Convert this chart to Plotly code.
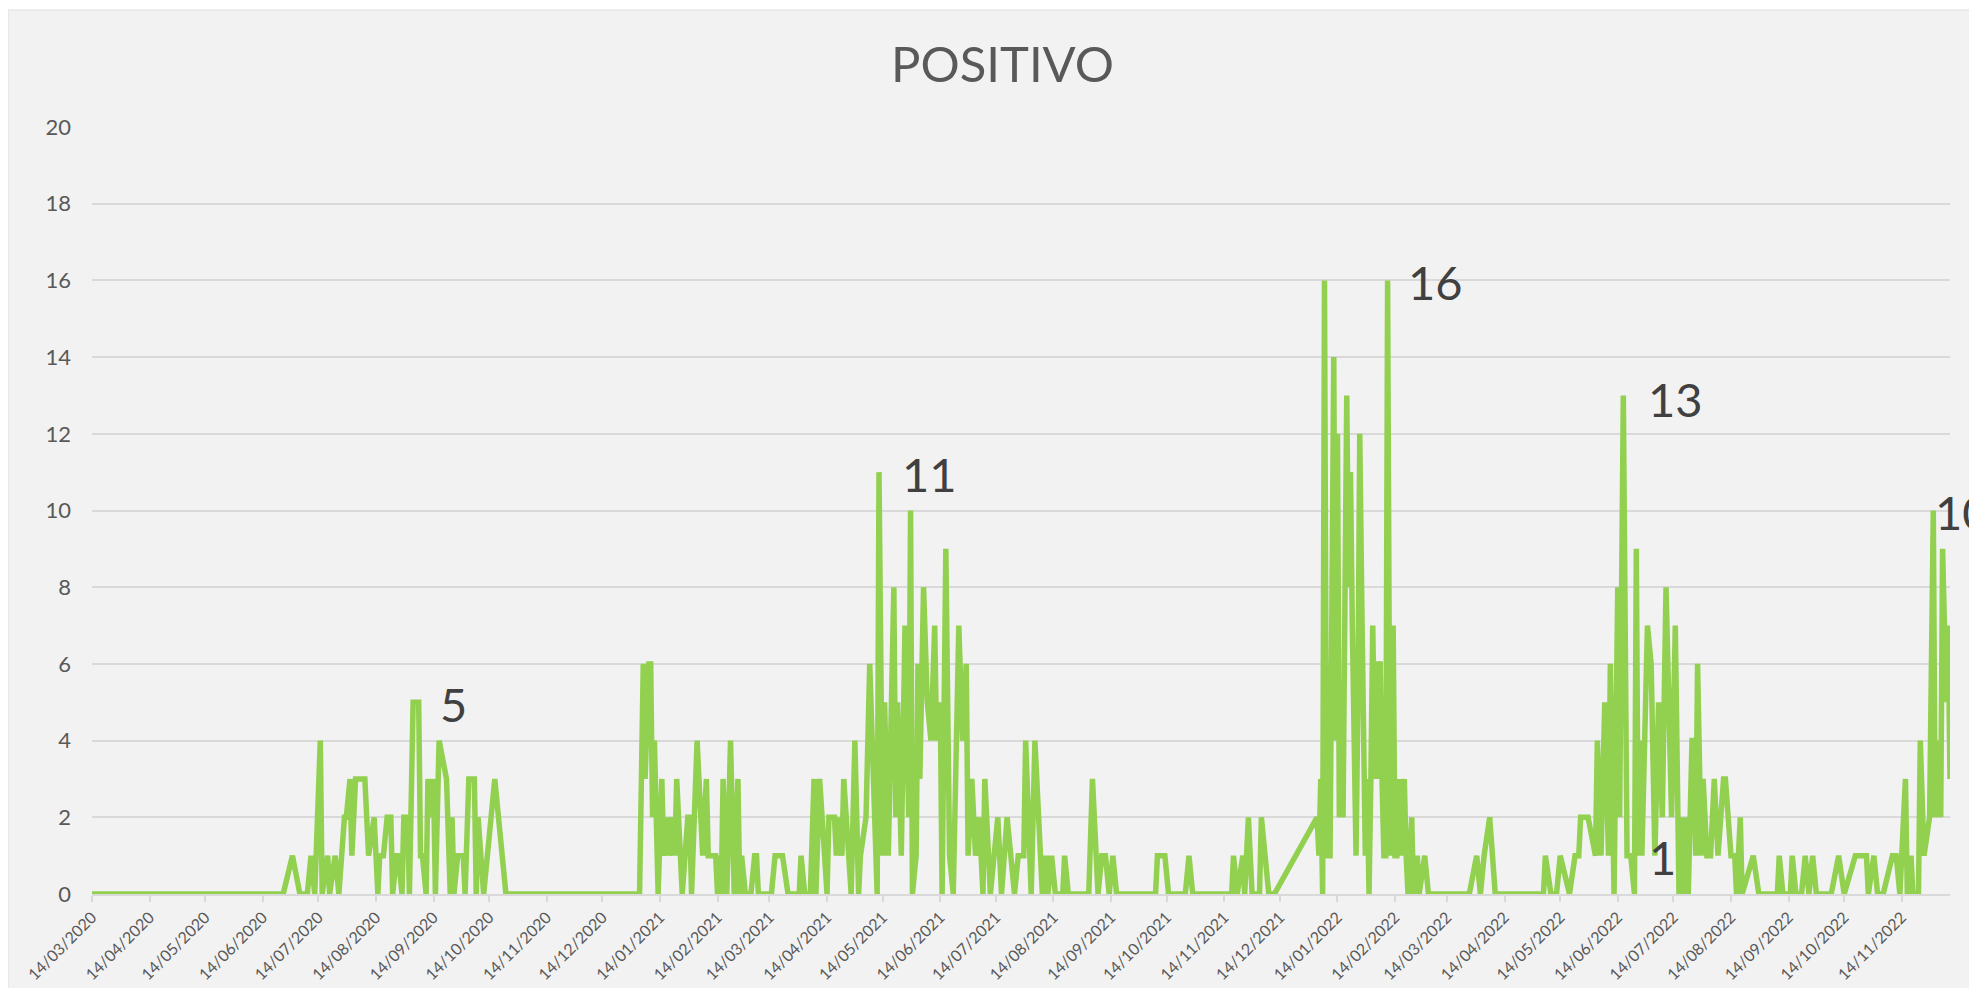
import pandas as pd
import plotly.graph_objects as go

# ---- data: days since 14/03/2020 and daily positives ----
inicio = "2020-03-14"

dias_2020 = [0,103,108,112,116,118,120,123,124,127,128,131,133,136,137,139,140,142,147,149,
             152,154,155,157,159,161,162,164,165,167,168,170,171,173,176,177,178,180,181,182,
             184,185,187,191,193,194,195,197,200,201,203,206,207,208,211,215,217,223]
pos_2020 = [0,0,1,0,0,1,0,4,0,1,0,1,0,2,2,3,1,3,3,1,
            2,0,1,1,2,2,0,1,1,0,2,2,0,5,5,1,1,0,3,2,
            3,0,4,3,0,2,0,1,1,0,3,3,0,2,0,2,3,0]

dias_2021 = [295,297,298,300,301,302,303,305,307,308,310,311,313,314,315,318,321,322,323,326,
             328,329,331,332,336,337,338,339,340,342,344,346,348,349,350,352,355,357,358,359,
             366,368,372,375,381,382,384,387,389,390,392,396,397,400,401,402,404,405,409,411,
             413,414,417,419,421,423,424,426,427,429,432,433,434,436,438,440,441,442,444,445,
             446,448,450,452,454,455,457,458,460,462,464,467,469,471,472,474,476,478,480,481,
             484,488,490,493,497,499,502,503,506,508,511,512,514,515,517,519,523,524,526]
pos_2021 = [0,6,3,6,6,2,4,0,3,1,2,1,2,1,3,0,2,2,0,4,
            2,1,3,1,1,0,1,0,3,0,4,0,3,0,1,0,0,1,1,0,
            0,1,1,0,0,1,0,0,3,0,3,0,2,2,1,2,1,3,0,4,
            0,1,2,6,3,0,11,1,5,1,8,2,5,1,7,2,10,0,1,6,
            3,8,5,4,7,4,5,0,9,1,0,7,4,6,1,3,1,2,0,3,
            0,2,0,2,0,1,1,4,0,4,1,0,1,0,1,0,0,1,0]

dias_fin2021 = [537,539,542,544,546,548,550,552,573,574,578,580,589,591,593,614,615,617,620,621,
                623,625,629,630,634,637]
pos_fin2021 = [0,3,0,1,1,0,1,0,0,1,1,0,0,1,0,0,1,0,1,0,
               2,0,0,2,0,0]

dias_2022a = [660,661,662,663,664,665,666,667,668,669,670,671,672,673,674,675,676,677,678,679,
              680,681,682,683,684,685,686,687,688,689,690,691,692,693,694,695,696,697,698,699,
              700,701,702,703,704,705,707,708,709,711,712,714,715,718,720,742,746,748,750,753,
              756,782,783,786,789,791]
pos_2022a = [2,1,3,0,16,3,1,1,8,14,4,12,2,3,2,7,13,8,11,7,
             3,1,5,12,8,3,1,3,0,3,7,4,3,6,6,3,1,1,16,5,
             1,7,1,1,3,1,3,1,0,2,0,1,0,1,0,0,1,0,1,2,
             0,0,1,0,0,1]

dias_2022b = [796,799,801,802,806,810,811,813,815,817,818,820,822,823,825,827,829,831,832,833,
              834,835,838,840,842,844,846,848,851,853,855,857,858,859,860,862,863,864,865,867,
              868,870,872,874,876,879,880,883,885,886,888,889,895,898]
pos_2022b = [0,1,1,2,2,1,4,1,5,1,6,0,8,2,13,1,1,0,9,1,
             4,1,7,6,1,5,2,8,2,7,0,2,0,2,0,4,4,1,6,1,
             3,1,1,3,1,3,3,1,1,0,2,0,1,0]

dias_2022c = [908,909,911,915,916,918,921,923,925,927,929,937,941,944,950,956,957,960,962,965,
              970,972,974,977,978,980,981,984,985,987,990,992,993,995,996,997,999,1000,1001]
pos_2022c = [0,1,0,0,1,0,0,1,0,1,0,0,1,0,1,1,0,1,0,0,
             1,1,0,3,0,1,0,0,4,1,2,10,2,4,2,9,5,7,3]

tick_labels = ["14/03/2020","14/04/2020","14/05/2020","14/06/2020","14/07/2020","14/08/2020",
               "14/09/2020","14/10/2020","14/11/2020","14/12/2020","14/01/2021","14/02/2021",
               "14/03/2021","14/04/2021","14/05/2021","14/06/2021","14/07/2021","14/08/2021",
               "14/09/2021","14/10/2021","14/11/2021","14/12/2021","14/01/2022","14/02/2022",
               "14/03/2022","14/04/2022","14/05/2022","14/06/2022","14/07/2022","14/08/2022",
               "14/09/2022","14/10/2022","14/11/2022"]

etiquetas = ["5", "11", "16", "13", "1", "10"]
etiqueta_fechas = ["2020-09-25", "2021-06-08", "2022-03-08", "2022-07-15", "2022-07-08", "2022-12-01"]
etiqueta_y = [4.95, 10.96, 15.95, 12.92, 0.96, 9.96]
etiqueta_anchor = ["center", "center", "center", "center", "center", "left"]

# ---- build ----
dias = dias_2020 + dias_2021 + dias_fin2021 + dias_2022a + dias_2022b + dias_2022c
positivos = pos_2020 + pos_2021 + pos_fin2021 + pos_2022a + pos_2022b + pos_2022c
t0 = pd.Timestamp(inicio)
fechas = [t0 + pd.Timedelta(days=d) for d in dias]
tick_vals = [pd.to_datetime(s, format="%d/%m/%Y") for s in tick_labels]

FONT = "Lato"
OFF = 8                      # page body margin offset
W, H = 1977 - OFF, 988 - OFF
L, R, T, B = 84, 27, 119, 94
pw, ph = W - L - R, H - T - B

def px_x(px):                # px in page coordinates
    return (px - OFF - L) / pw

def px_y(py):
    return (H - B - (py - OFF)) / ph

fig = go.Figure()
fig.add_trace(go.Scatter(
    x=fechas, y=positivos, mode="lines",
    line=dict(color="#92D050", width=5.5),
    cliponaxis=False, hoverinfo="x+y", showlegend=False,
))

annotations = [dict(
    text="POSITIVO", xref="paper", yref="paper", x=px_x(1002), y=px_y(63),
    xanchor="center", yanchor="middle", showarrow=False,
    font=dict(family=FONT, size=49, color="#595959"),
)]
for txt, fx, fy, anc in zip(etiquetas, etiqueta_fechas, etiqueta_y, etiqueta_anchor):
    annotations.append(dict(
        text=txt, x=fx, y=fy, xref="x", yref="y", showarrow=False,
        xanchor=anc, yanchor="middle",
        font=dict(family=FONT, size=47, color="#404040"),
    ))

fig.update_layout(
    width=W, height=H, autosize=False,
    margin=dict(l=L, r=R, t=T, b=B, pad=0, autoexpand=False),
    paper_bgcolor="#FFFFFF", plot_bgcolor="rgba(0,0,0,0)",
    font=dict(family=FONT, color="#595959"),
    showlegend=False,
    annotations=annotations,
    shapes=[dict(
        type="rect", xref="paper", yref="paper", layer="below",
        x0=px_x(8), x1=px_x(1977 + 20), y0=px_y(988 + 20), y1=px_y(10),
        fillcolor="#F2F2F2", line=dict(color="#DDDDDD", width=1),
    )],
    xaxis=dict(
        type="date", range=[fechas[0], fechas[-1]], automargin=False,
        tickmode="array", tickvals=tick_vals, ticktext=tick_labels,
        tickangle=-45, tickfont=dict(family=FONT, size=16, color="#595959"),
        showgrid=False, zeroline=False,
        showline=True, linecolor="#D9D9D9", linewidth=1.5,
        ticks="outside", ticklen=6, tickcolor="#D9D9D9", tickwidth=1.5,
    ),
    yaxis=dict(
        range=[0, 20], tick0=0, dtick=2, automargin=False,
        tickfont=dict(family=FONT, size=22, color="#595959"),
        showgrid=True, gridcolor="#D9D9D9", gridwidth=1.5,
        zeroline=False, showline=False, ticks="",
        ticklabelstandoff=20,
    ),
)

fig.write_html("out.html")
